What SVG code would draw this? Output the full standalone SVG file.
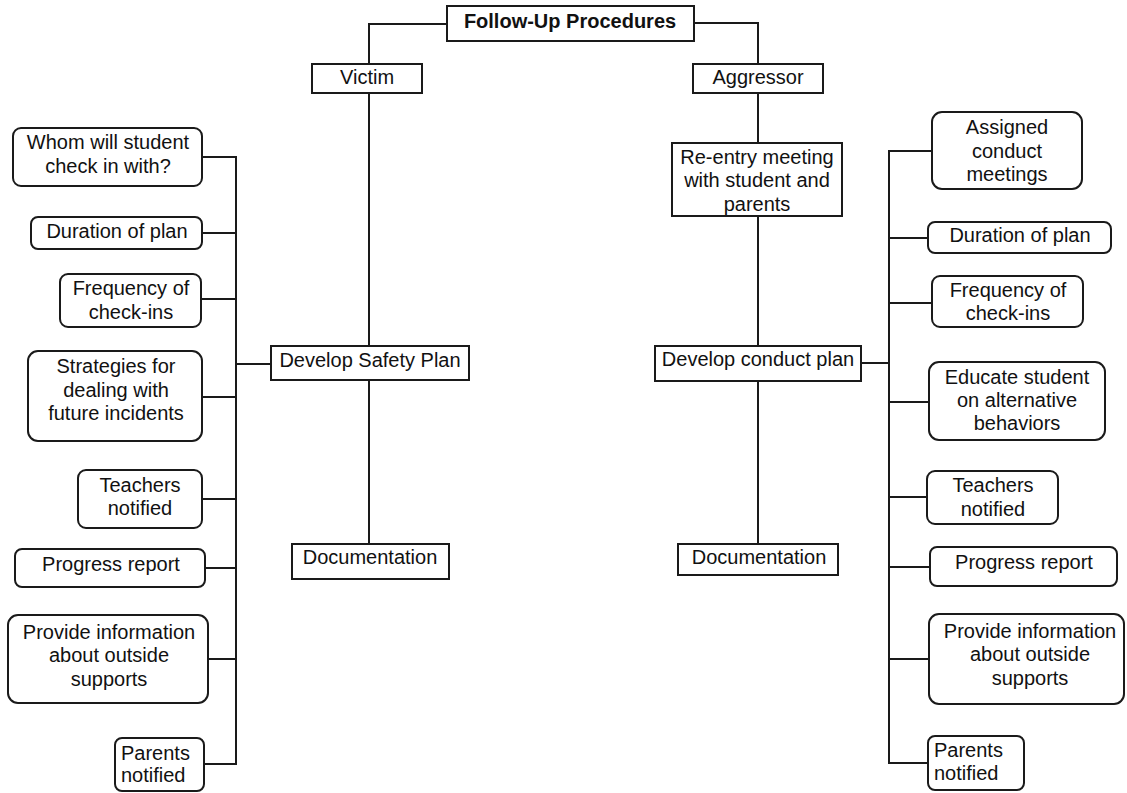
<svg xmlns="http://www.w3.org/2000/svg" width="1127" height="793" viewBox="0 0 1127 793">
<style>
.bg{fill:#ffffff}
.box{fill:#ffffff;stroke:#1a1a1a;stroke-width:2}
.conn{fill:none;stroke:#1a1a1a;stroke-width:2}
.t{font-family:"Liberation Sans",Arial,Helvetica,sans-serif;font-size:20px;fill:#111111;text-anchor:middle}
.tl{text-anchor:start}
.b{font-weight:bold}
</style>
<rect class="bg" x="0" y="0" width="1127" height="793"/>
<g id="connectors">
<path class="conn" d="M447,24 H369 V64"/>
<path class="conn" d="M694,23 H758 V64"/>
<path class="conn" d="M369,93 V346"/>
<path class="conn" d="M369,380 V544"/>
<path class="conn" d="M758,93 V143"/>
<path class="conn" d="M758,216 V346"/>
<path class="conn" d="M758,381 V544"/>
<path class="conn" d="M202,157 H236 V764 H204"/>
<path class="conn" d="M202,233 H236"/>
<path class="conn" d="M201,299 H236"/>
<path class="conn" d="M236,364 H271"/>
<path class="conn" d="M202,397 H236"/>
<path class="conn" d="M202,499 H236"/>
<path class="conn" d="M205,568 H236"/>
<path class="conn" d="M208,659 H236"/>
<path class="conn" d="M932,151 H889 V763 H928"/>
<path class="conn" d="M889,238 H928"/>
<path class="conn" d="M889,303 H932"/>
<path class="conn" d="M861,363 H889"/>
<path class="conn" d="M889,402 H929"/>
<path class="conn" d="M889,497 H927"/>
<path class="conn" d="M889,567 H930"/>
<path class="conn" d="M889,659 H929"/>
</g>
<g id="title">
<rect class="box" x="447" y="6" width="247" height="35"/>
<text class="t b" x="570" y="28">Follow-Up Procedures</text>
</g>
<g id="victim">
<rect class="box" x="312" y="64" width="110" height="29"/>
<text class="t" x="367" y="84">Victim</text>
</g>
<g id="aggressor">
<rect class="box" x="693" y="64" width="130" height="29"/>
<text class="t" x="758" y="84">Aggressor</text>
</g>
<g id="whom">
<rect class="box" x="13" y="128" width="189" height="58" rx="8"/>
<text class="t" x="108" y="149">Whom will student</text>
<text class="t" x="108" y="173">check in with?</text>
</g>
<g id="duration-left">
<rect class="box" x="31" y="217" width="171" height="32" rx="7"/>
<text class="t" x="117" y="238">Duration of plan</text>
</g>
<g id="frequency-left">
<rect class="box" x="60" y="274" width="141" height="53" rx="8"/>
<text class="t" x="131" y="295">Frequency of</text>
<text class="t" x="131" y="319">check-ins</text>
</g>
<g id="strategies">
<rect class="box" x="28" y="351" width="174" height="90" rx="10"/>
<text class="t" x="116" y="373">Strategies for</text>
<text class="t" x="116" y="397">dealing with</text>
<text class="t" x="116" y="420">future incidents</text>
</g>
<g id="develop-safety-plan">
<rect class="box" x="271" y="346" width="198" height="34"/>
<text class="t" x="370" y="367">Develop Safety Plan</text>
</g>
<g id="teachers-left">
<rect class="box" x="78" y="470" width="124" height="58" rx="8"/>
<text class="t" x="140" y="492">Teachers</text>
<text class="t" x="140" y="515">notified</text>
</g>
<g id="progress-left">
<rect class="box" x="15" y="549" width="190" height="38" rx="7"/>
<text class="t" x="111" y="571">Progress report</text>
</g>
<g id="provide-left">
<rect class="box" x="8" y="615" width="200" height="88" rx="10"/>
<text class="t" x="109" y="639">Provide information</text>
<text class="t" x="109" y="662">about outside</text>
<text class="t" x="109" y="686">supports</text>
</g>
<g id="parents-left">
<rect class="box" x="115" y="738" width="89" height="53" rx="7"/>
<text class="t tl" x="121" y="760">Parents</text>
<text class="t tl" x="121" y="782">notified</text>
</g>
<g id="documentation-left">
<rect class="box" x="292" y="544" width="157" height="35"/>
<text class="t" x="370" y="564">Documentation</text>
</g>
<g id="reentry">
<rect class="box" x="672" y="143" width="170" height="73"/>
<text class="t" x="757" y="164">Re-entry meeting</text>
<text class="t" x="757" y="187">with student and</text>
<text class="t" x="757" y="211">parents</text>
</g>
<g id="assigned">
<rect class="box" x="932" y="112" width="150" height="77" rx="10"/>
<text class="t" x="1007" y="134">Assigned</text>
<text class="t" x="1007" y="158">conduct</text>
<text class="t" x="1007" y="181">meetings</text>
</g>
<g id="duration-right">
<rect class="box" x="928" y="222" width="183" height="31" rx="7"/>
<text class="t" x="1020" y="242">Duration of plan</text>
</g>
<g id="frequency-right">
<rect class="box" x="932" y="276" width="151" height="51" rx="8"/>
<text class="t" x="1008" y="297">Frequency of</text>
<text class="t" x="1008" y="320">check-ins</text>
</g>
<g id="develop-conduct-plan">
<rect class="box" x="655" y="346" width="206" height="35"/>
<text class="t" x="758" y="366">Develop conduct plan</text>
</g>
<g id="educate">
<rect class="box" x="929" y="362" width="176" height="78" rx="10"/>
<text class="t" x="1017" y="384">Educate student</text>
<text class="t" x="1017" y="407">on alternative</text>
<text class="t" x="1017" y="430">behaviors</text>
</g>
<g id="teachers-right">
<rect class="box" x="927" y="471" width="131" height="53" rx="8"/>
<text class="t" x="993" y="492">Teachers</text>
<text class="t" x="993" y="516">notified</text>
</g>
<g id="progress-right">
<rect class="box" x="930" y="547" width="187" height="39" rx="7"/>
<text class="t" x="1024" y="569">Progress report</text>
</g>
<g id="provide-right">
<rect class="box" x="929" y="614" width="195" height="90" rx="10"/>
<text class="t" x="1030" y="638">Provide information</text>
<text class="t" x="1030" y="661">about outside</text>
<text class="t" x="1030" y="685">supports</text>
</g>
<g id="parents-right">
<rect class="box" x="928" y="736" width="96" height="54" rx="7"/>
<text class="t tl" x="934" y="757">Parents</text>
<text class="t tl" x="934" y="780">notified</text>
</g>
<g id="documentation-right">
<rect class="box" x="678" y="544" width="160" height="31"/>
<text class="t" x="759" y="564">Documentation</text>
</g>
</svg>
